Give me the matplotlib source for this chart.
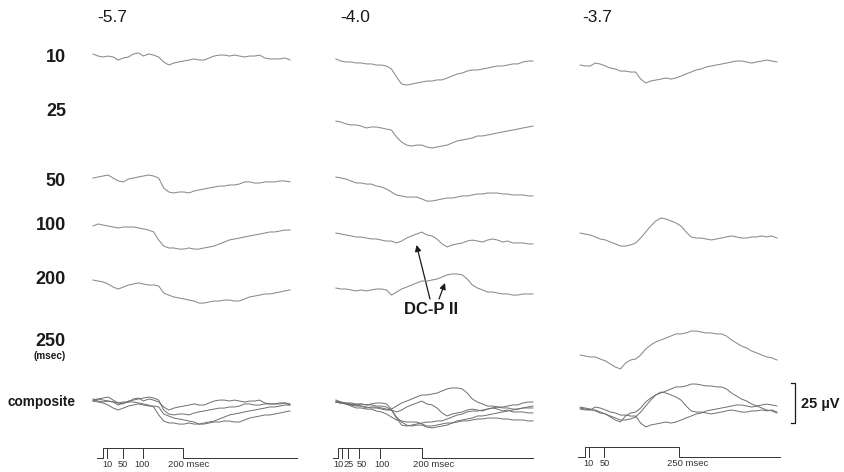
import numpy as np
import matplotlib.pyplot as plt

plt.rcParams['font.family'] = ['Liberation Sans', 'DejaVu Sans']

# -----------------------------
# Labels
# -----------------------------
col_titles = ['-5.7', '-4.0', '-3.7']
row_names = ['10', '25', '50', '100', '200', '250']

# stimulus timing marks (ms) under each column
marks_col1 = [10, 50, 100, 200]
marks_col2 = [10, 25, 50, 100, 200]
marks_col3 = [10, 50, 250]

# sample times (ms) of each column's traces (40 samples per trace)
t_col1 = np.linspace(-25, 467.5, 40)
t_col2 = np.linspace(-5, 466.5, 40)
t_col3 = np.linspace(-13, 510.5, 40)

# -----------------------------
# Traces, microvolts (positive up)
# -----------------------------
c1_10 = [1.9, 0.6, 0, 0.6, 0, -1.9, -0.6, 0, 1.9, 2.5,
         0.6, 1.9, 1.2, 0, -3.1, -5, -3.8, -3.1, -2.5, -1.9,
         -1.2, -1.9, -1.9, -0.6, 0.6, 1.2, 1.2, 0.6, 1.2, 0.6,
         0, 0.6, 0.6, 1.2, -0.6, -1.2, -1.2, -1.2, -0.6, -1.9]
c1_50 = [1.2, 1.9, 2.5, 3.1, 1.2, -0.6, -1.2, 0.6, 1.2, 1.9,
         2.5, 3.1, 2.5, 1.2, -5, -7.5, -8.1, -7.5, -7.5, -8.1,
         -6.9, -6.2, -5.6, -5, -4.4, -3.8, -3.8, -3.1, -3.1, -2.5,
         -1.2, -1.2, -1.9, -1.9, -1.2, -1.2, -1.2, -0.6, -0.6, -1.2]
c1_100 = [0.6, 1.9, 1.2, 0.6, 0, -0.6, 0, 0, 0, -0.6,
          -1.2, -1.9, -3.1, -8.1, -11.9, -13.1, -13.1, -13.8, -13.8, -13.1,
          -13.8, -13.8, -13.1, -12.5, -11.9, -10.6, -9.4, -8.1, -7.5, -6.9,
          -6.2, -5.6, -5, -4.4, -3.8, -3.1, -3.1, -2.5, -1.9, -1.9]
c1_200 = [0.6, 0, -0.6, -1.9, -3.8, -5, -3.8, -2.5, -1.9, -1.2,
          -1.9, -2.5, -2.5, -3.1, -7.5, -8.8, -10, -10.6, -11.2, -11.9,
          -12.5, -13.8, -13.8, -13.1, -12.5, -12.5, -11.9, -11.9, -12.5, -12.5,
          -11.2, -10, -9.4, -8.8, -8.1, -8.1, -7.5, -6.9, -6.2, -5.6]

c2_10 = [1.9, 0.6, 0, 0, -0.6, -0.6, -1.2, -1.2, -1.9, -1.9,
         -2.5, -4.4, -9.4, -13.8, -14.4, -13.8, -13.1, -12.5, -11.9, -11.9,
         -11.2, -11.2, -10, -8.8, -7.5, -6.9, -5.6, -5, -5, -4.4,
         -3.8, -3.1, -2.5, -2.5, -1.9, -1.2, -1.2, 0, 0.6, 0.6]
c2_25 = [1.2, 0.6, -0.6, -1.2, -1.2, -1.9, -3.1, -2.5, -2.5, -3.1,
         -3.8, -4.4, -8.8, -11.9, -13.8, -14.4, -13.8, -13.8, -15, -15.6,
         -15, -14.4, -13.8, -12.5, -11.2, -10.6, -10, -9.4, -8.1, -8.1,
         -7.5, -6.9, -6.2, -5.6, -5, -4.4, -3.8, -3.1, -2.5, -1.9]
c2_50 = [0.6, 0, -0.6, -1.9, -3.1, -3.1, -3.8, -3.8, -5, -5.6,
         -6.9, -8.8, -10.6, -11.2, -11.9, -11.9, -11.9, -13.1, -14.4, -14.4,
         -13.8, -13.1, -12.5, -12.5, -11.9, -11.2, -11.2, -10.6, -10, -10,
         -9.4, -9.4, -9.4, -10, -10, -10.6, -10.6, -10.6, -11.2, -11.2]
c2_100 = [0.6, 0, -0.6, -1.2, -1.9, -1.9, -2.5, -3.1, -3.1, -3.8,
          -4.4, -4.4, -5.6, -4.4, -2.5, -1.2, 0, 1.2, -0.6, -1.2,
          -3.1, -6.2, -8.1, -6.9, -6.2, -5.6, -4.4, -3.8, -4.4, -5,
          -3.8, -3.1, -3.8, -5, -4.4, -5.6, -5.6, -5.6, -6.2, -6.2]
c2_200 = [0.6, 0, 0, -0.6, -1.2, -0.6, -1.2, -0.6, 0, 0,
          -0.6, -3.8, -1.9, 0, 1.2, 2.5, 3.8, 5, 5, 5.6,
          6.2, 7.5, 8.8, 9.4, 9.4, 8.8, 6.2, 2.5, 0.6, -0.6,
          -1.9, -1.9, -2.5, -3.1, -3.1, -3.8, -3.8, -3.1, -3.1, -3.1]

c3_10 = [0, -0.6, -0.6, 1.2, 0.6, -0.6, -1.9, -2.5, -3.8, -3.8,
         -4.4, -4.4, -8.8, -11.2, -10, -9.4, -8.8, -8.1, -8.8, -8.1,
         -6.9, -5.6, -4.4, -3.1, -2.5, -1.2, -0.6, 0, 0.6, 1.2,
         1.9, 2.5, 2.5, 1.9, 1.2, 1.9, 2.5, 3.1, 2.5, 1.9]
c3_100 = [1.2, 0.6, 0, -1.2, -2.5, -3.1, -4.4, -5.6, -6.9, -6.9,
          -6.2, -5, -1.9, 1.9, 5.6, 8.8, 10.6, 10, 8.8, 7.5,
          5.6, 1.9, -1.2, -1.9, -1.9, -2.5, -3.1, -2.5, -1.9, -1.2,
          -0.6, -1.2, -1.9, -1.9, -1.2, -1.2, -0.6, -1.2, -0.6, -1.9]
c3_250 = [0.6, 0, -0.6, -0.6, -1.9, -3.1, -5, -6.9, -8.1, -4.4,
          -2.5, -1.9, 0.6, 4.4, 6.9, 8.8, 10, 11.2, 12.5, 13.8,
          13.8, 14.4, 15.6, 15.6, 15, 14.4, 14.4, 13.8, 13.8, 12.5,
          10, 8.1, 6.2, 5, 3.1, 1.9, 0.6, -0.6, -1.2, -2.5]

SCALE_UV = 25

# -----------------------------
# Layout (pixels)
# -----------------------------
W, H = 844, 472
PX_PER_UV = 1.6
TRACE = '#8a8a8a'
COMP = '#6e6e6e'
INK = '#1a1a1a'

row_y = {'10': 57, '25': 112, '50': 181, '100': 225, '200': 280, '250': 341}

columns = [
    dict(t0=103, s=0.400, t=t_col1, title_x=112,
         traces=[('10', 57, c1_10), ('50', 180, c1_50),
                 ('100', 227, c1_100), ('200', 281, c1_200)],
         comp_y=402, bar_y=458, bar_t=(-15, 485), marks=marks_col1,
         lab_dx=[0, 0, -1], last_dx=-15),
    dict(t0=338, s=0.418, t=t_col2, title_x=355,
         traces=[('10', 62, c2_10), ('25', 123, c2_25), ('50', 178, c2_50),
                 ('100', 234, c2_100), ('200', 289, c2_200)],
         comp_y=403, bar_y=458, bar_t=(-12, 466), marks=marks_col2,
         lab_dx=[-3.5, 0, 3, 2], last_dx=-9),
    dict(t0=585, s=0.376, t=t_col3, title_x=597,
         traces=[('10', 65, c3_10), ('100', 235, c3_100), ('250', 356, c3_250)],
         comp_y=409, bar_y=457, bar_t=(-19, 518), marks=marks_col3,
         lab_dx=[0, 1], last_dx=-12),
]


def uv(px):
    return -px / PX_PER_UV


fig = plt.figure(figsize=(W / 100, H / 100), dpi=100)
base = fig.add_axes([0, 0, 1, 1])
base.set_xlim(0, W)
base.set_ylim(H, 0)
base.axis('off')

# row labels
for name in row_names:
    base.text(66, row_y[name], name, ha='right', va='center',
              fontsize=13, fontweight='bold', color=INK)
base.text(50, 356, '(msec)', ha='center', va='center',
          fontsize=7.2, fontweight='bold', color=INK)
base.text(8, 402, 'composite', ha='left', va='center',
          fontsize=9.8, fontweight='bold', color=INK)

for title, col in zip(col_titles, columns):
    base.text(col['title_x'], 18, title, ha='center', va='center',
              fontsize=12.5, color=INK)

    ax = fig.add_axes([0, 0, 1, 1])
    ax.axis('off')
    ax.patch.set_alpha(0)
    ax.set_xlim(-col['t0'] / col['s'], (W - col['t0']) / col['s'])
    ax.set_ylim(uv(H), 0)

    for name, y0, vals in col['traces']:
        v = np.asarray(vals)
        ax.plot(col['t'], uv(y0) + v, color=TRACE, lw=0.75)
        ax.plot(col['t'], uv(col['comp_y']) + v, color=COMP, lw=0.7)

    # stimulus timing bar
    yb = uv(col['bar_y'])
    ht = 10 / PX_PER_UV
    ta, tb = col['bar_t']
    stim = col['marks'][-1]
    ax.plot([ta, 0, 0, stim, stim, tb], [yb, yb, yb + ht, yb + ht, yb, yb],
            color='#333333', lw=0.7)
    for m in col['marks'][:-1]:
        ax.plot([m, m], [yb, yb + ht], color='#333333', lw=0.7)
    ylab = yb - 7 / PX_PER_UV
    for m, dx in zip(col['marks'][:-1], col['lab_dx']):
        ax.text(m + dx / col['s'], ylab, str(m), ha='center', va='center',
                fontsize=6.6, color='#333333')
    ax.text(stim + col['last_dx'] / col['s'], ylab, f'{stim} msec',
            ha='left', va='center', fontsize=6.8, color='#333333')

# 25 uV scale bar (in the last column's axes)
sx = (795 - columns[2]['t0']) / columns[2]['s']
tick = 4 / columns[2]['s']
yb0 = uv(423)
ax.plot([sx - tick, sx, sx, sx - tick], [yb0, yb0, yb0 + SCALE_UV, yb0 + SCALE_UV],
        color=INK, lw=0.9)
base.text(801, 404, f'{SCALE_UV} µV', ha='left', va='center',
          fontsize=10.5, fontweight='bold', color=INK)

# DC-P II annotation
base.text(431, 310, 'DC-P II', ha='center', va='center',
          fontsize=12, fontweight='bold', color=INK)
base.annotate('', xy=(416.5, 245), xytext=(430, 299),
              arrowprops=dict(arrowstyle='-|>', color=INK, lw=0.9,
                              mutation_scale=9, shrinkA=0, shrinkB=0))
base.annotate('', xy=(445, 283), xytext=(439, 299),
              arrowprops=dict(arrowstyle='-|>', color=INK, lw=0.9,
                              mutation_scale=9, shrinkA=0, shrinkB=0))

plt.savefig('out.png', dpi=100, facecolor='white')
